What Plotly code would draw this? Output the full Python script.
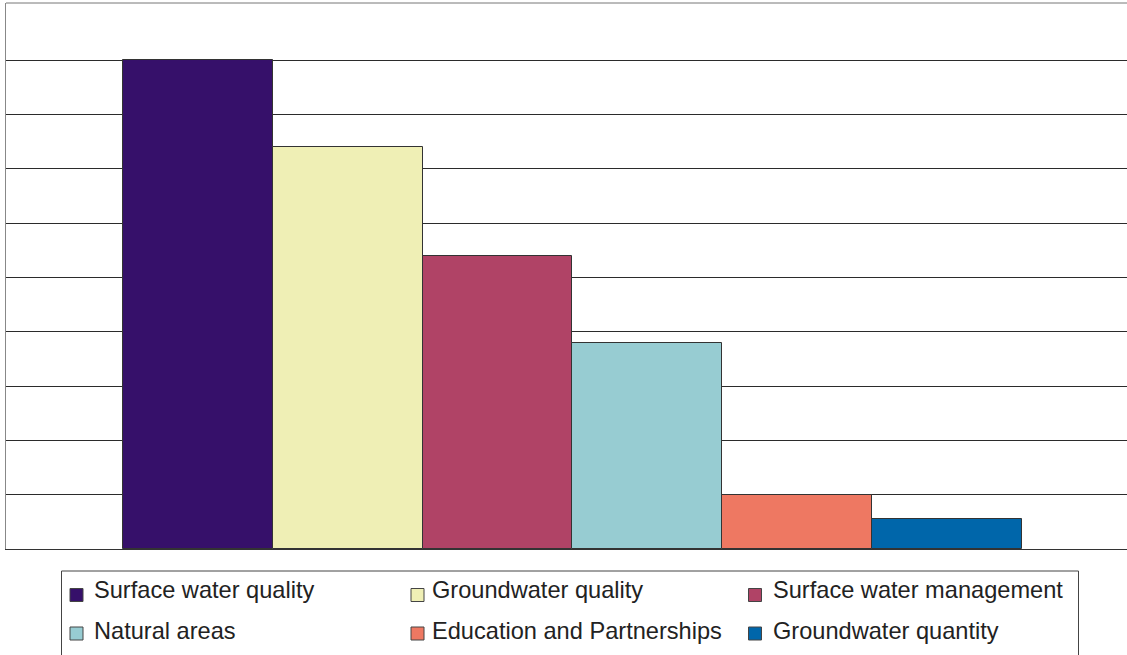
import plotly.graph_objects as go

categories = ["Surface water quality", "Groundwater quality", "Surface water management",
              "Natural areas", "Education and Partnerships", "Groundwater quantity"]
values = [45, 37, 27, 19, 5, 2.8]
colors = ["#36106A", "#EFEFB5", "#B04366", "#97CCD2", "#EE7862", "#0066AA"]
grid_values = [0, 5, 10, 15, 20, 25, 30, 35, 40, 45]

W, H = 1127, 655
L, T, B = 6, 3, 549  # plot area pixel edges
PW = W - L
PH = B - T


def xp(px):
    return (px - L) / PW


def yp(py):
    return (B - py) / PH


fig = go.Figure(go.Bar(
    x=categories, y=values,
    marker=dict(color=colors, line=dict(color="#333333", width=1)),
    showlegend=False, hoverinfo="x+y",
))

fig.update_layout(
    width=W, height=H,
    margin=dict(l=L, r=0, t=T, b=H - B, pad=0),
    paper_bgcolor="white", plot_bgcolor="white",
    bargap=0,
    font=dict(family="Liberation Sans, Arial, sans-serif", size=23.6, color="#222222"),
    xaxis=dict(range=[-1.28, 6.202], showticklabels=False, showgrid=False,
               showline=True, linecolor="#333333", linewidth=1, ticks="", zeroline=False),
    yaxis=dict(range=[0, 50.25], tickvals=grid_values, showticklabels=False, showgrid=True,
               gridcolor="#2b2b2b", gridwidth=1, showline=True, linecolor="#888888",
               linewidth=1, zeroline=False, ticks=""),
)

shapes = [
    dict(type="line", xref="paper", yref="paper", x0=0, x1=1, y0=1, y1=1,
         line=dict(color="#777777", width=1)),
    # legend box
    dict(type="rect", xref="paper", yref="paper", x0=xp(61.5), x1=xp(1078.5),
         y0=yp(571), y1=yp(665), line=dict(color="#444444", width=1), fillcolor="white",
         layer="above"),
]

marker_left = [70, 411, 748.5]
text_left = [92.5, 431, 772]
row_marker_top = [588.5, 627]
row_text_mid = [589.5, 631]
annotations = []
for i, (name, col) in enumerate(zip(categories, colors)):
    r, c = divmod(i, 3)
    mx = marker_left[c]
    my = row_marker_top[r]
    shapes.append(dict(type="rect", xref="paper", yref="paper",
                       x0=xp(mx), x1=xp(mx + 13), y0=yp(my), y1=yp(my + 13),
                       fillcolor=col, line=dict(color="#444444", width=1), layer="above"))
    annotations.append(dict(text=name, xref="paper", yref="paper",
                            x=xp(text_left[c]), y=yp(row_text_mid[r]),
                            xanchor="left", yanchor="middle", showarrow=False,
                            font=dict(size=23.6, color="#222222"), borderpad=0))

fig.update_layout(shapes=shapes, annotations=annotations)
fig.write_html("out.html")
